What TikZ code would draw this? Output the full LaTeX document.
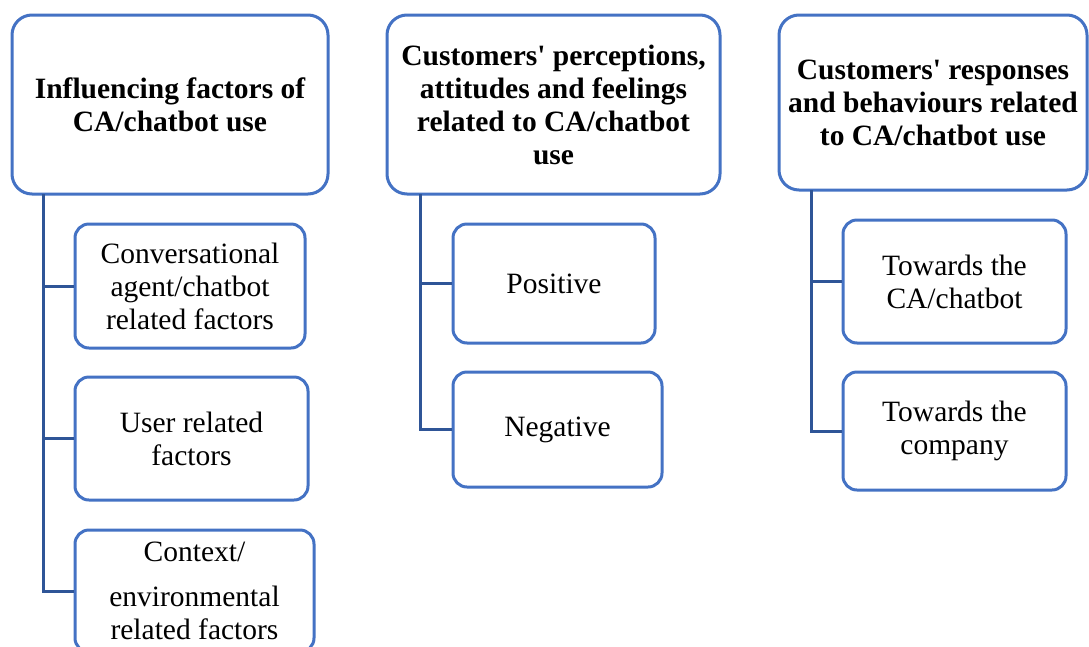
\documentclass[tikz,border=0pt]{standalone}
\usepackage{fontspec}
\setmainfont{Liberation Serif}
\definecolor{boxblue}{HTML}{4472C4}
\definecolor{connblue}{HTML}{2F5597}
\begin{document}
\begin{tikzpicture}[x=1pt,y=-1pt,
  every node/.style={inner sep=0pt, align=center, font=\fontsize{29.5}{33}\selectfont},
  headbox/.style={draw=boxblue, line width=3pt, rounded corners=20pt, fill=white, font=\fontsize{29.5}{33}\selectfont\bfseries},
  subbox/.style={draw=boxblue, line width=3pt, rounded corners=14pt, fill=white},
  conn/.style={draw=connblue, line width=3pt}]
\useasboundingbox (0,0) rectangle (1089,646);
\clip (0,0) rectangle (1089,646);
\fill[white] (0,0) rectangle (1089,646);
% headers
\node[headbox, minimum width=316pt, minimum height=179pt] (h1) at (170,104.5)
  {Influencing factors of\\CA/chatbot use};
\node[headbox, minimum width=333pt, minimum height=179pt] (h2) at (553.5,104.5)
  {Customers\textquotesingle{} perceptions,\\attitudes and feelings\\related to CA/chatbot\\use};
\node[headbox, minimum width=308pt, minimum height=175pt] (h3) at (933,102.5)
  {Customers\textquotesingle{} responses\\and behaviours related\\to CA/chatbot use};
% children column 1
\node[subbox, minimum width=230pt, minimum height=124pt] (c1) at (190,286)
  {Conversational\\agent/chatbot\\related factors};
\node[subbox, minimum width=233pt, minimum height=123pt] (c2) at (191.5,438.5)
  {User related\\factors};
\node[subbox, minimum width=239pt, minimum height=122pt] (c3) at (194.5,591)
  {Context/\\[12pt]environmental\\related factors};
% children column 2
\node[subbox, minimum width=202pt, minimum height=119pt] (p1) at (554,283.5) {Positive};
\node[subbox, minimum width=209pt, minimum height=115pt] (p2) at (557.5,429.5) {Negative};
% children column 3
\node[subbox, minimum width=223pt, minimum height=123pt] (r1) at (954.5,281.5)
  {Towards the\\CA/chatbot};
\node[subbox, minimum width=223pt, minimum height=118pt] (r2) at (954.5,431)
  {Towards the\\company};
% connectors
\coordinate (t1) at (43,194);
\coordinate (t2) at (420,194);
\coordinate (t3) at (811,190);
\draw[conn] (t1) |- (c1.west);
\draw[conn] (t1) |- (c2.west);
\draw[conn] (t1) |- (c3.west);
\draw[conn] (t2) |- (p1.west);
\draw[conn] (t2) |- (p2.west);
\draw[conn] (t3) |- (r1.west);
\draw[conn] (t3) |- (r2.west);
\end{tikzpicture}
\end{document}
